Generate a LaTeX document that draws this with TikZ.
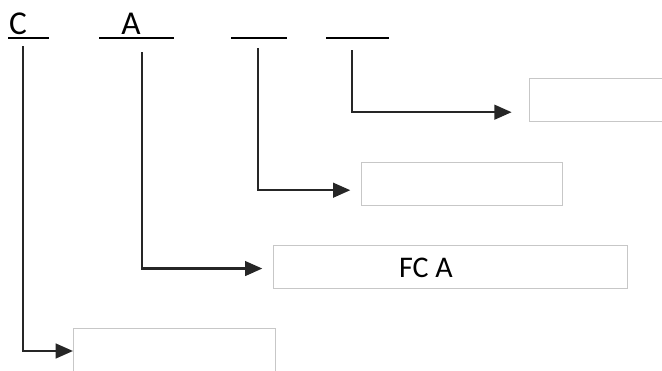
\documentclass[tikz,border=0pt]{standalone}
\usepackage{fontspec}
\setmainfont{Carlito}
\usepackage{tikz}
\usetikzlibrary{arrows.meta}
\usetikzlibrary{positioning}

\tikzset{
    field/.style={draw=black!22, line width=0.8pt, anchor=north west, minimum height=32.5pt, inner sep=0pt},
    conn/.style={draw=black!85, line width=1.8pt, -{Triangle[length=13pt, width=11pt]}},
    uline/.style={line width=1.5pt},
    head/.style={font=\fontsize{25}{28}\selectfont, anchor=base, inner sep=0pt}
}

\begin{document}
\begin{tikzpicture}[x=0.75pt, y=-0.75pt]
    \useasboundingbox (0,0) rectangle (662,371);

    % Header fields
    \node[head] (hC) at (18,34) {C};
    \node[head] (hA) at (131,34) {A};
    \draw[uline] (8,38) -- (49,38);
    \draw[uline] (99,38) -- (174,38);
    \draw[uline] (231,38) -- (287,38);
    \draw[uline] (326,38) -- (389,38);

    % Start points below the fields
    \coordinate (sC) at (23,46);
    \coordinate (sA) at (142,52);
    \coordinate (sB) at (258,48);
    \coordinate (sD) at (352,50);

    % Boxes
    \node[field, minimum width=151.5pt] (bD) at (529,78) {};
    \node[field, minimum width=151pt] (bB) at (361,162) {};
    \node[field, minimum width=265.5pt] (bA) at (273,245) {};
    \node[field, minimum width=151.5pt] (bC) at (73,328) {};
    \node[font=\fontsize{22.5}{25}\selectfont, inner sep=0pt] (tA) at (426,268) {FC A};

    % Connectors
    \draw[conn, shorten >=13pt] (sD) |- ([yshift=-9pt]bD.west);
    \draw[conn, shorten >=8pt] (sB) |- ([yshift=-4.5pt]bB.west);
    \draw[conn, shorten >=8pt] (sA) |- ([yshift=-1pt]bA.west);
    \draw[conn] (sC) |- (bC.west |- 0,351);
\end{tikzpicture}
\end{document}
